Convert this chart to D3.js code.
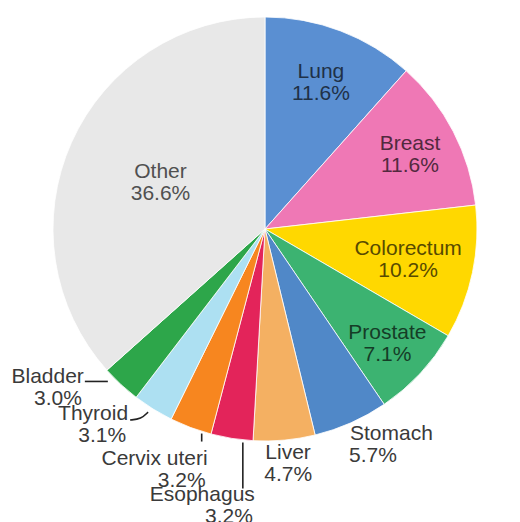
<!DOCTYPE html>
<html>
<head>
<meta charset="utf-8">
<script src="https://cdn.jsdelivr.net/npm/d3@7"></script>
<style>
  html, body { margin: 0; padding: 0; background: #fff; }
  svg { display: block; font-family: "Liberation Sans", Arial, sans-serif; }
</style>
</head>
<body>
<svg id="chart" width="520" height="522"></svg>
<script>
// Share of new cancer cases by site (%)
const sites = ["Lung", "Breast", "Colorectum", "Prostate", "Stomach", "Liver",
               "Esophagus", "Cervix uteri", "Thyroid", "Bladder", "Other"];
const shares = [11.6, 11.6, 10.2, 7.1, 5.7, 4.7, 3.2, 3.2, 3.1, 3.0, 36.6];
const colors = ["#5a8fd2", "#ef78b5", "#ffd800", "#3cb371", "#5088c8", "#f4b062",
                "#e3245a", "#f7861f", "#ade0f2", "#2da64a", "#e8e8e8"];

const data = sites.map((s, i) => ({ site: s, value: shares[i], color: colors[i] }));

const svg = d3.select("#chart");
const cx = 265, cy = 229, R = 212;
const g = svg.append("g").attr("transform", `translate(${cx},${cy})`);

const pie = d3.pie().value(d => d.value).sort(null);
const arcs = pie(data);
const arc = d3.arc().innerRadius(0).outerRadius(R);

g.selectAll("path.slice")
  .data(arcs)
  .enter().append("path")
  .attr("class", "slice")
  .attr("d", arc)
  .attr("fill", d => d.data.color)
  .attr("stroke", "#fff")
  .attr("stroke-width", 0.8);

const fontSize = 21, lineGap = 22;

// Labels drawn inside the larger slices, at a per-slice fraction of the radius
const insideRadius = { "Lung": 0.74, "Breast": 0.77, "Colorectum": 0.69, "Prostate": 0.79, "Other": 0.54 };

function polar(angle, r) {
  return [r * Math.sin(angle), -r * Math.cos(angle)];
}

arcs.filter(a => insideRadius[a.data.site] !== undefined).forEach(a => {
  const mid = (a.startAngle + a.endAngle) / 2;
  const [x, y] = polar(mid, R * insideRadius[a.data.site]);
  const t = g.append("text")
    .attr("text-anchor", "middle")
    .attr("font-size", fontSize)
    .attr("fill", d3.color(a.data.color).darker(3).formatHex());
  t.append("tspan").attr("x", x).attr("y", y - lineGap / 2 + 7).text(a.data.site);
  t.append("tspan").attr("x", x).attr("y", y + lineGap / 2 + 7).text(a.data.value.toFixed(1) + "%");
});

// Outside labels: offset from the slice's outer midpoint, with optional leader line
const outside = {
  "Stomach":      { anchor: "start", dx: -1,  dy: 10, line: null },
  "Liver":        { anchor: "start", dx: -19, dy: 12, line: null },
  "Esophagus":    { anchor: "end",   dx: 23,  dy: 56, line: [[11, 4], [11, 50]] },
  "Cervix uteri": { anchor: "end",   dx: 17,  dy: 30, line: [[11, 6], [11, 14]] },
  "Thyroid":      { anchor: "end",   dx: -25, dy: 4,  line: [[-5, 3], [-12, 10], [-23, 11]] },
  "Bladder":      { anchor: "end",   dx: -37, dy: -8, line: [[-13, -3], [-36, -3]] }
};

arcs.filter(a => outside[a.data.site] !== undefined).forEach(a => {
  const o = outside[a.data.site];
  const mid = (a.startAngle + a.endAngle) / 2;
  const [px, py] = polar(mid, R);
  if (o.line) {
    g.append("path")
      .attr("d", d3.line().curve(d3.curveBasis)(o.line.map(p => [px + p[0], py + p[1]])))
      .attr("fill", "none")
      .attr("stroke", "#222")
      .attr("stroke-width", 1.6);
  }
  const x = px + o.dx, y = py + o.dy;
  const t = g.append("text")
    .attr("text-anchor", o.anchor)
    .attr("font-size", fontSize)
    .attr("fill", "#3a3a3a");
  t.append("tspan").attr("x", x).attr("y", y + 7).text(a.data.site);
  t.append("tspan").attr("x", o.anchor === "end" ? x - 2 : x - 1).attr("y", y + 7 + lineGap).text(a.data.value.toFixed(1) + "%");
});
</script>
</body>
</html>
